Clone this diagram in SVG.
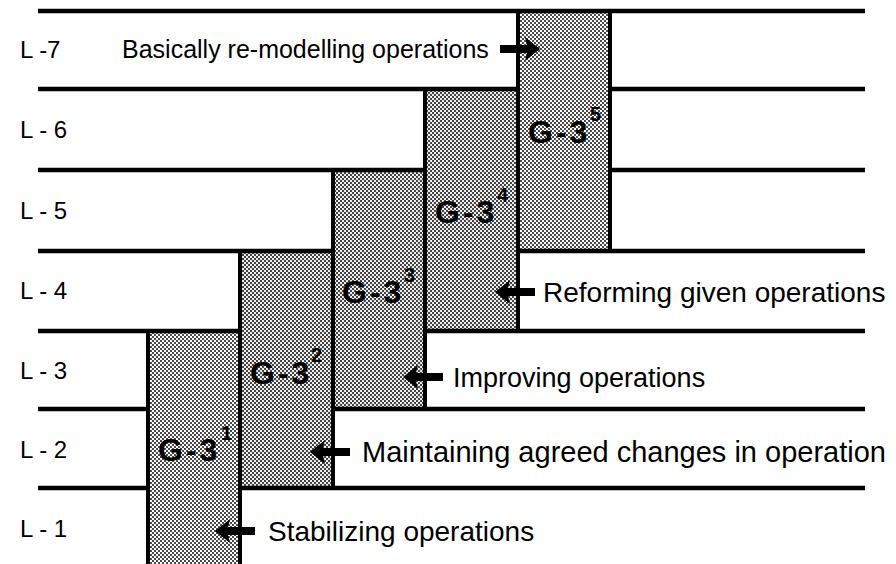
<svg xmlns="http://www.w3.org/2000/svg" xmlns:xlink="http://www.w3.org/1999/xlink" width="896" height="564" viewBox="0 0 896 564">
<style>
.ln{stroke:#000;stroke-width:4.5;fill:none;stroke-linecap:butt}
.lv{stroke:#000;stroke-width:4;fill:none}
.lvl{font-family:"Liberation Sans",Arial,sans-serif;font-size:24px;fill:#000}
.op{font-family:"Liberation Sans",Arial,sans-serif;font-size:28px;fill:#000}
.g{font-family:"Liberation Sans",Arial,sans-serif;font-size:32px;font-weight:bold;fill:#000;letter-spacing:3px}
.sup{font-family:"Liberation Sans",Arial,sans-serif;font-size:20px;font-weight:bold;fill:#000}
.col{fill:url(#ht)}
.dk{fill:#000;opacity:0.07}
</style>
<defs>
<pattern id="ht" width="4" height="4" patternUnits="userSpaceOnUse">
<rect width="4" height="4" fill="#ffffff"/>
<rect x="0" y="0" width="2" height="2" fill="#4a4a4a"/>
<rect x="2" y="2" width="2" height="2" fill="#4a4a4a"/>
</pattern>
<polygon id="arrL" points="0,0 15,-12 13,-4 40,-4 40,4 13,4 15,12" fill="#000"/>
</defs>
<rect width="896" height="564" fill="#fff"/>

<g id="col1"><rect class="col" x="148" y="331" width="92" height="233"/>
<text class="g" x="158" y="461">G-3</text><text class="sup" x="221" y="440">1</text></g>
<g id="col2"><rect class="col" x="240" y="251" width="93" height="237"/><rect class="dk" x="240" y="251" width="93" height="237"/>
<text class="g" x="250" y="384">G-3</text><text class="sup" x="311" y="362">2</text></g>
<g id="col3"><rect class="col" x="333" y="170" width="92" height="239"/><rect class="dk" x="333" y="170" width="92" height="239"/>
<text class="g" x="342" y="303">G-3</text><text class="sup" x="404" y="282">3</text></g>
<g id="col4"><rect class="col" x="425" y="89" width="93" height="242"/><rect class="dk" x="425" y="89" width="93" height="242"/>
<text class="g" x="435" y="223">G-3</text><text class="sup" x="497" y="202">4</text></g>
<g id="col5"><rect class="col" x="518" y="11" width="92" height="240"/>
<text class="g" x="528" y="143">G-3</text><text class="sup" x="590" y="121">5</text></g>

<g id="grid">
<path class="ln" d="M38 11H865 M38 89H518 M610 89H865 M38 170H425 M610 170H865 M38 251H333 M518 251H865 M38 331H240 M425 331H865 M38 409H148 M333 409H865 M38 488H148 M240 488H865"/>
<path class="lv" d="M148 331V564 M240 251V564 M333 170V488 M425 89V409 M518 11V331 M610 11V251"/>
</g>

<g id="levels">
<text id="L7" class="lvl" x="20" y="58">L -7</text>
<text id="L6" class="lvl" x="20" y="138">L - 6</text>
<text id="L5" class="lvl" x="20" y="219">L - 5</text>
<text id="L4" class="lvl" x="20" y="299">L - 4</text>
<text id="L3" class="lvl" x="20" y="379">L - 3</text>
<text id="L2" class="lvl" x="20" y="458">L - 2</text>
<text id="L1" class="lvl" x="20" y="537">L - 1</text>
</g>

<g id="op7"><text class="op" x="122" y="58" style="font-size:25px">Basically re-modelling operations</text></g>
<g id="op4"><text class="op" x="543" y="302">Reforming given operations</text></g>
<g id="op3"><text class="op" x="453" y="387" style="font-size:27px">Improving operations</text></g>
<g id="op2"><text class="op" x="362" y="462" style="font-size:29px">Maintaining agreed changes in operation</text></g>
<g id="op1"><text class="op" x="268" y="541">Stabilizing operations</text></g>

<g id="connectors">
<use xlink:href="#arrL" transform="translate(540,49) scale(-1,1)"/>
<use xlink:href="#arrL" transform="translate(495,292)"/>
<use xlink:href="#arrL" transform="translate(403,377)"/>
<use xlink:href="#arrL" transform="translate(310,452)"/>
<use xlink:href="#arrL" transform="translate(215,531)"/>
</g>
</svg>
